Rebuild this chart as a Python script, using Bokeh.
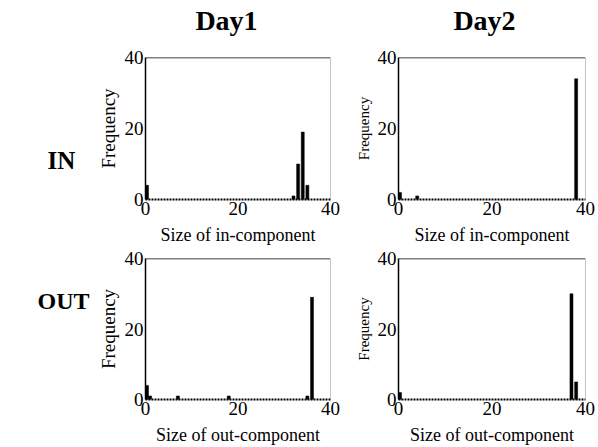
import numpy as np
from bokeh.plotting import figure
from bokeh.layouts import row, column
from bokeh.models import Span, Label, FixedTicker, Range1d
from bokeh.embed import file_html
from bokeh.resources import INLINE

# ---- data ----
day1_in_sizes = [0, 32, 33, 34, 35]
day1_in_freq = [4, 1, 10, 19, 4]
day2_in_sizes = [0, 4, 38]
day2_in_freq = [2, 1, 34]
day1_out_sizes = [0, 1, 7, 18, 35, 36]
day1_out_freq = [4, 1, 1, 1, 1, 29]
day2_out_sizes = [0, 37, 38]
day2_out_freq = [2, 30, 5]

x_ticks = [0, 20, 40]
y_ticks = [0, 20, 40]
col_titles = ["Day1", "Day2"]
row_titles = ["IN", "OUT"]
x_labels = ["Size of in-component", "Size of out-component"]
y_label = "Frequency"

FONT = "Liberation Serif"
BAR_W = 0.65
XMAX = 40
YMAX = 40

# layout geometry (page pixels)
HEADER_H = 45
STRIP_W = 94
COLS = [dict(width=251, bl=49, br=15), dict(width=251, bl=53, br=11)]
ROWS = [dict(height=203, bt=12, bb=49, xstand=7), dict(height=199, bt=10, bb=48, xstand=7)]
YLAB_SIZE = ["19px", "15px"]
TOTAL_W = STRIP_W + sum(c["width"] for c in COLS)
TOTAL_H = HEADER_H + sum(r["height"] for r in ROWS)


def make_panel(sizes, freqs, xlabel, ci, ri):
    c, r = COLS[ci], ROWS[ri]
    p = figure(width=c["width"], height=r["height"], x_range=(0, XMAX), y_range=(0, YMAX),
               output_backend="svg", toolbar_location=None,
               min_border_left=c["bl"], min_border_right=c["br"],
               min_border_top=r["bt"], min_border_bottom=r["bb"])
    p.outline_line_color = None
    p.grid.visible = False

    xs = np.maximum(np.array(sizes, dtype=float), BAR_W / 2)
    p.vbar(x=xs, top=freqs, width=BAR_W, fill_color="black", line_color="black", line_width=0.5)

    for ax in (p.xaxis[0], p.yaxis[0]):
        ax.major_tick_in = 0
        ax.major_tick_out = 0
        ax.minor_tick_in = 0
        ax.minor_tick_out = 0
        ax.major_label_text_font = FONT
        ax.major_label_text_font_size = "19px"
        ax.major_label_text_color = "black"
        ax.axis_label_text_font = FONT
        ax.axis_label_text_font_style = "normal"
        ax.axis_label_text_color = "black"
    p.xaxis.ticker = FixedTicker(ticks=x_ticks, minor_ticks=[])
    p.yaxis.ticker = FixedTicker(ticks=y_ticks, minor_ticks=[])
    p.xaxis.major_label_standoff = 2
    p.xaxis.axis_label = xlabel
    p.xaxis.axis_label_text_font_size = "18px"
    p.xaxis.axis_label_standoff = r["xstand"]
    p.xaxis.axis_line_dash = "2 1"
    p.xaxis.axis_line_width = 2
    p.xaxis.axis_line_color = "black"

    p.yaxis.major_label_standoff = 2
    p.yaxis.axis_label = y_label
    p.yaxis.axis_label_text_font_size = YLAB_SIZE[ci]
    p.yaxis.axis_label_standoff = 3
    p.yaxis.axis_line_width = 1.5
    p.yaxis.axis_line_color = "black"

    p.add_layout(Span(location=YMAX, dimension="width", line_color="black", line_width=1.5))
    p.add_layout(Span(location=XMAX, dimension="height", line_color="#8c8c8c", line_width=1))
    return p


def text_strip(width, height, x0, y0):
    # a blank figure whose data coordinates are page pixels (y downward)
    s = figure(width=width, height=height, x_range=Range1d(x0, x0 + width),
               y_range=Range1d(y0 + height, y0), output_backend="svg", toolbar_location=None,
               min_border=0)
    s.axis.visible = False
    s.grid.visible = False
    s.outline_line_color = None
    return s


def add_text(s, text, px, py, size):
    s.add_layout(Label(x=px, y=py, text=text, text_font=FONT, text_font_size=size,
                       text_font_style="bold", text_align="center", text_baseline="middle",
                       text_color="black"))


header = text_strip(TOTAL_W, HEADER_H, 0, 0)
add_text(header, col_titles[0], 226, 20, "28px")
add_text(header, col_titles[1], 484, 20, "28px")

side = text_strip(STRIP_W, TOTAL_H - HEADER_H, 0, HEADER_H)
add_text(side, row_titles[0], 61, 160, "25px")
add_text(side, row_titles[1], 63, 300, "24px")

p1 = make_panel(day1_in_sizes, day1_in_freq, x_labels[0], 0, 0)
p2 = make_panel(day2_in_sizes, day2_in_freq, x_labels[0], 1, 0)
p3 = make_panel(day1_out_sizes, day1_out_freq, x_labels[1], 0, 1)
p4 = make_panel(day2_out_sizes, day2_out_freq, x_labels[1], 1, 1)

grid = column(row(p1, p2, spacing=0), row(p3, p4, spacing=0), spacing=0)
layout = column(header, row(side, grid, spacing=0), spacing=0)

open("out.html", "w").write(file_html(layout, INLINE))
